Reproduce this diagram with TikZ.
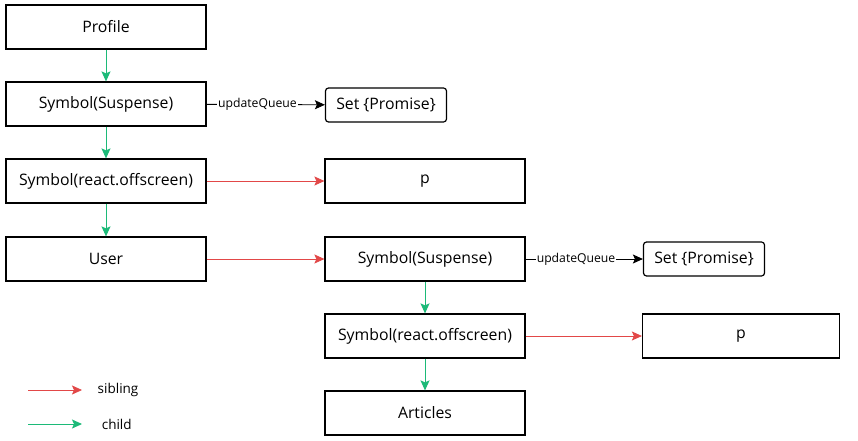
\documentclass[tikz,border=0pt]{standalone}
\usepackage{fontspec}
\setmainfont{Open Sans}
\usetikzlibrary{arrows.meta}
\definecolor{sibred}{RGB}{226,72,72}
\definecolor{childgreen}{RGB}{28,186,120}
\tikzstyle{box}=[draw=black,line width=1.2pt,fill=white,minimum width=200pt,minimum height=44pt,inner sep=0pt,font=\fontsize{15.8}{18}\selectfont]
\tikzstyle{setbox}=[box,minimum width=121pt,minimum height=34pt,rounded corners=3pt]
\tikzstyle{child}=[-{Stealth[length=10pt,width=9pt,inset=2pt]},draw=childgreen,line width=1pt]
\tikzstyle{sibling}=[-{Stealth[length=10pt,width=9pt,inset=2pt]},draw=sibred,line width=0.8pt]
\tikzstyle{queue}=[-{Stealth[length=10pt,width=9pt,inset=2pt]},draw=black,line width=0.9pt]
\tikzstyle{qlabel}=[fill=white,inner sep=1pt,pos=0.43,font=\fontsize{12.2}{14}\selectfont]

\begin{document}
\begin{tikzpicture}[x=1pt,y=-1pt]
      \useasboundingbox[fill=white] (0,0) rectangle (858,441);

      % left column
      \begin{scope}
        \node[box] (profile) at (106, 27) {Profile};
        \node[box] (susp1) at (106, 104) {Symbol(Suspense)};
        \node[box] (off1) at (106, 181) {Symbol(react.offscreen)};
        \node[box] (user) at (106, 259) {User};
        \draw[child] (profile) -- (susp1);
        \draw[child] (susp1) -- (off1);
        \draw[child] (off1) -- (user);
      \end{scope}

      % middle column
      \begin{scope}
        \node[setbox] (set1) at (386, 105) {Set \{Promise\}};
        \node[box] (p1) at (425, 181) {p};
        \node[box] (susp2) at (425, 259) {Symbol(Suspense)};
        \node[box] (off2) at (425, 336) {Symbol(react.offscreen)};
        \node[box] (articles) at (425, 413) {Articles};
        \draw[queue] (susp1) -- node[qlabel]{updateQueue} (set1);
        \draw[sibling] (off1) -- (p1);
        \draw[sibling] (user) -- (susp2);
        \draw[child] (susp2) -- (off2);
        \draw[child] (off2) -- (articles);
      \end{scope}

      % right column
      \begin{scope}
        \node[setbox] (set2) at (704, 259) {Set \{Promise\}};
        \node[box, minimum width=197pt] (p2) at (741, 336) {p};
        \draw[queue] (susp2) -- node[qlabel]{updateQueue} (set2);
        \draw[sibling] (off2) -- (p2);
      \end{scope}

      % legend
      \begin{scope}
        \coordinate (s0) at (28, 390);
        \coordinate (s1) at (82, 390);
        \coordinate (c0) at (28, 424);
        \coordinate (c1) at (82, 424);
        \draw[sibling] (s0) -- (s1) node[right=12pt, font=\fontsize{13.5}{15}\selectfont] (sl) {sibling};
        \draw[child] (c0) -- (c1) node[right=16pt, font=\fontsize{13.5}{15}\selectfont] (cl) {child};
      \end{scope}
    \end{tikzpicture}
\end{document}
